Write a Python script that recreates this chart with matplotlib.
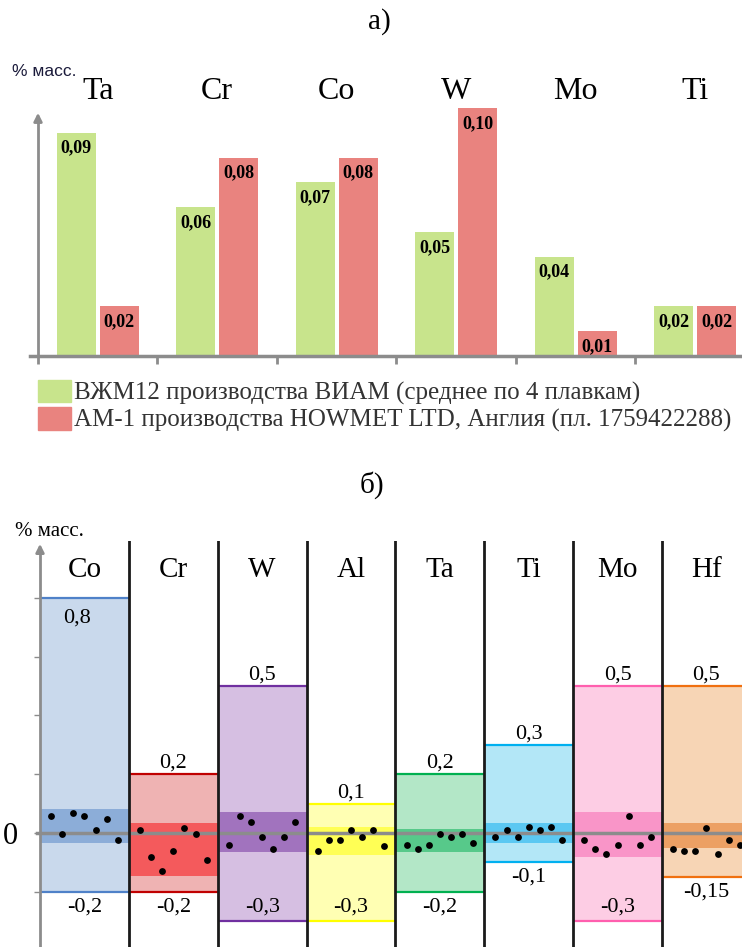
import numpy as np
import matplotlib
matplotlib.use("Agg")
import matplotlib.pyplot as plt
from matplotlib.patches import Patch

plt.rcParams['font.family'] = ['Liberation Serif', 'DejaVu Serif']

# --- a) разница в составе сплавов, % масс.
top_elements = ['Ta', 'Cr', 'Co', 'W', 'Mo', 'Ti']
vzhm12 = [0.09, 0.06, 0.07, 0.05, 0.04, 0.02]
am1 = [0.02, 0.08, 0.08, 0.10, 0.01, 0.02]
legend_labels = ['ВЖМ12 производства ВИАМ (среднее по 4 плавкам)',
                 'АМ-1 производства HOWMET LTD, Англия (пл. 1759422288)']

# --- б) допуски и отклонения по плавкам, % масс.
elements = ['Co', 'Cr', 'W', 'Al', 'Ta', 'Ti', 'Mo', 'Hf']
upper = [0.8, 0.2, 0.5, 0.1, 0.2, 0.3, 0.5, 0.5]
lower = [-0.2, -0.2, -0.3, -0.3, -0.2, -0.1, -0.3, -0.15]
band_hi = [0.08, 0.034, 0.071, 0.02, 0.014, 0.034, 0.071, 0.034]
band_lo = [-0.035, -0.146, -0.065, -0.075, -0.065, -0.034, -0.082, -0.05]
dev_co = [0.058, -0.002, 0.068, 0.058, 0.009, 0.047, -0.024]
dev_cr = [0.009, -0.083, -0.13, -0.062, 0.018, -0.002, -0.093]
dev_w = [-0.042, 0.058, 0.036, -0.014, -0.053, -0.014, 0.036]
dev_al = [-0.062, -0.024, -0.024, 0.009, -0.014, 0.009, -0.043]
dev_ta = [-0.042, -0.053, -0.042, -0.002, -0.014, -0.002, -0.033]
dev_ti = [-0.014, 0.009, -0.014, 0.019, 0.009, 0.019, -0.024]
dev_mo = [-0.024, -0.053, -0.073, -0.042, 0.058, -0.042, -0.014]
dev_hf = [-0.053, -0.062, -0.062, 0.018, -0.073, -0.024, -0.042]
deviations = [dev_co, dev_cr, dev_w, dev_al, dev_ta, dev_ti, dev_mo, dev_hf]

fill_colors = ['#c9d9ec', '#efb3b3', '#d6bfe2', '#ffffb3', '#b3e7c7', '#b3e7f7', '#fdcde4', '#f7d5b5']
band_colors = ['#8cadd8', '#f45a5c', '#a173be', '#ffff55', '#57c98a', '#5bc8f2', '#f995c8', '#eca064']
edge_colors = ['#4f81c8', '#c00000', '#7030a0', '#ffff00', '#00b050', '#00b0f0', '#ff5fae', '#f07010']

GRAY = '#8c8c8c'
W, H = 742, 947
fig = plt.figure(figsize=(W / 100, H / 100), dpi=100)


def px_axes(l, t, r, b):
    return fig.add_axes([l / W, 1 - b / H, (r - l) / W, (b - t) / H])


def fmt(v, nd=None):
    s = f"{v:.{nd}f}" if nd else f"{v:g}"
    return s.replace('.', ',')


# ---------------- a) ----------------
ax = px_axes(30, 60, 742, 356)
x = np.arange(len(top_elements))
ax.bar(x + 0.32, vzhm12, width=0.33, color='#c8e48c')
ax.bar(x + 0.68, am1, width=0.33, color='#e9837f')
for i in range(len(top_elements)):
    for xx, v in ((x[i] + 0.32, vzhm12[i]), (x[i] + 0.68, am1[i])):
        ax.annotate(fmt(v, 2), (xx, v), xytext=(0, -11), textcoords='offset points',
                    ha='center', va='center', fontsize=13, fontweight='bold')
    ax.text(x[i] + 0.5, 0.1065, top_elements[i], ha='center', va='center', fontsize=23)

ax.set_xlim(-8 / 119.5, 704 / 119.5)
ax.set_ylim(0, 296 / 2480)
for s in ('top', 'right'):
    ax.spines[s].set_visible(False)
ax.spines['bottom'].set_color(GRAY)
ax.spines['bottom'].set_linewidth(2.5)
ax.spines['left'].set_position(('data', 0))
ax.spines['left'].set_bounds(0, 0.095)
ax.spines['left'].set_color(GRAY)
ax.spines['left'].set_linewidth(2)
ax.annotate('', xy=(0, 0.0992), xytext=(0, 0.094),
            arrowprops=dict(arrowstyle='-|>', color=GRAY, lw=2, mutation_scale=12))
ax.set_xticks(np.arange(0, 6))
ax.set_xticklabels([])
ax.set_yticks([])
ax.tick_params(axis='x', direction='out', length=6, width=2, color=GRAY)

fig.text(12 / W, 1 - 72 / H, '% масс.', family=['Liberation Sans', 'DejaVu Sans'],
         fontsize=12.5, va='center', ha='left', color='#1a1a3a')

fig.legend(handles=[Patch(color='#c8e48c'), Patch(color='#e9837f')], labels=legend_labels,
           loc='upper left', bbox_to_anchor=(38 / W, 1 - 380 / H), frameon=False,
           fontsize=18, handlelength=1.3, handleheight=1.0, handletextpad=0.15,
           labelspacing=0.08, borderpad=0, borderaxespad=0, labelcolor='#333333')

fig.text(379 / W, 1 - 22 / H, 'а)', ha='center', va='center', fontsize=21)
fig.text(372 / W, 1 - 485 / H, 'б)', ha='center', va='center', fontsize=21)

# ---------------- б) ----------------
bx = px_axes(30, 541, 742, 947)
cols = np.arange(len(elements))
bx.bar(cols + 0.5, np.subtract(upper, lower), bottom=lower, width=1.0,
       color=fill_colors, zorder=1)
bx.bar(cols + 0.5, np.subtract(band_hi, band_lo), bottom=band_lo, width=1.0,
       color=band_colors, zorder=2)
bx.hlines(upper, cols, cols + 1, colors=edge_colors, lw=1.6, zorder=2)
bx.hlines(lower, cols, cols + 1, colors=edge_colors, lw=1.6, zorder=2)
bx.axhline(0, xmin=7 / 712, color=GRAY, lw=2.5, zorder=3)
for c in cols[1:]:
    bx.axvline(c, color='#1a1a1a', lw=2, zorder=4)

for i, el in enumerate(elements):
    px = i + np.arange(1, 8) / 8
    bx.scatter(px, deviations[i], s=24, color='black', zorder=5, linewidths=0)
    bx.text(i + 0.5, 0.895, el, ha='center', va='center', fontsize=21)
    # верхняя граница
    if upper[i] >= 0.8:
        bx.annotate(fmt(upper[i]), (i + 0.42, upper[i]), xytext=(0, -8), textcoords='offset points',
                    ha='center', va='top', fontsize=16)
    else:
        bx.annotate(fmt(upper[i]), (i + 0.5, upper[i]), xytext=(0, 1), textcoords='offset points',
                    ha='center', va='bottom', fontsize=16)
    # нижняя граница
    if lower[i] <= -0.3:
        bx.annotate(fmt(lower[i]), (i + 0.5, lower[i]), xytext=(0, 3), textcoords='offset points',
                    ha='center', va='bottom', fontsize=16)
    else:
        bx.annotate(fmt(lower[i]), (i + 0.5, lower[i]), xytext=(0, -4), textcoords='offset points',
                    ha='center', va='top', fontsize=16)

bx.set_xlim(-10 / 88.86, 702 / 88.86)
bx.set_ylim(-114 / 294, 292 / 294)
for s in ('top', 'right', 'bottom'):
    bx.spines[s].set_visible(False)
bx.spines['left'].set_position(('data', 0))
bx.spines['left'].set_bounds(-114 / 294, 0.96)
bx.spines['left'].set_color(GRAY)
bx.spines['left'].set_linewidth(2)
bx.spines['left'].set_zorder(6)
bx.annotate('', xy=(0, 0.993), xytext=(0, 0.95),
            arrowprops=dict(arrowstyle='-|>', color=GRAY, lw=2, mutation_scale=12))
bx.set_xticks([])
bx.set_yticks([-0.2, 0, 0.2, 0.4, 0.6, 0.8])
bx.set_yticklabels(['', '0', '', '', '', ''], fontsize=22)
bx.tick_params(axis='y', direction='out', length=4, width=1, color=GRAY, pad=12)

fig.text(15 / W, 1 - 532 / H, '% масс.', ha='left', va='center', fontsize=15)

fig.savefig('out.png', dpi=100)
